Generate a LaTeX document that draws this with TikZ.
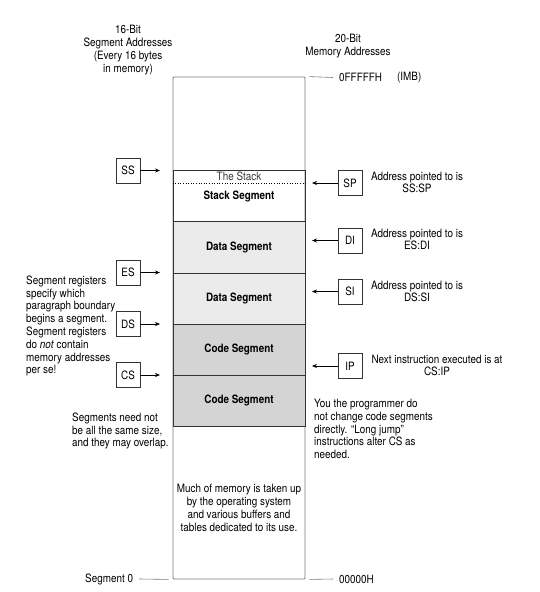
\documentclass[tikz,border=0pt]{standalone}
\usepackage{fontspec}
\setmainfont{TeX Gyre Heros}[FakeStretch=0.86]
\usetikzlibrary{arrows.meta}
\definecolor{datafill}{HTML}{EBEBEB}
\definecolor{codefill}{HTML}{D4D4D4}
\definecolor{linecol}{HTML}{333333}
\definecolor{outercol}{HTML}{7A7A7A}
\definecolor{stacktxt}{HTML}{3A3A3A}
\begin{document}
\begin{tikzpicture}[x=1pt,y=-1pt,
  every node/.style={font=\fontsize{11.5}{12.8}\selectfont, inner sep=0pt},
  seg/.style={draw=linecol, line width=0.8pt, minimum width=132pt, font=\fontsize{11.5}{12.8}\selectfont\bfseries},
  reg/.style={draw=linecol, line width=0.6pt, minimum width=24pt, minimum height=25pt},
  arr/.style={-{Stealth[length=5pt,width=4pt]}, line width=0.7pt},
  tick/.style={line width=0.6pt, draw=outercol},
  txt/.style={align=left, anchor=west},
  ctxt/.style={align=center}]
\useasboundingbox (0,0) rectangle (540,592);
% memory column
\node[draw=outercol, line width=0.8pt, rounded corners=1pt, minimum width=132pt, minimum height=502pt] (mem) at (239,328) {};
\node[seg, minimum height=51pt] (stack) at (239,195.5) {};
\node[seg, fill=datafill, minimum height=52pt] (data1) at (239,247) {Data Segment};
\node[seg, fill=datafill, minimum height=51pt] (data2) at (239,298.5) {Data Segment};
\node[seg, fill=codefill, minimum height=51pt] (code1) at (239,349.5) {Code Segment};
\node[seg, fill=codefill, minimum height=51pt] (code2) at (239,400.5) {Code Segment};
\node[text=stacktxt] (thestack) at (239,176) {The Stack};
\node[font=\fontsize{11.5}{12.8}\selectfont\bfseries] (stacklbl) at (239,196) {Stack Segment};
\draw[dotted, line width=0.6pt] (stack.west |- 0,183) coordinate (dl) -- (stack.east |- 0,183) coordinate (dr);
\node[ctxt] (much) at (239,508) {Much of memory is taken up\\by the operating system\\and various buffers and\\tables dedicated to its use.};
% headers
\node[ctxt] (hdr16) at (128,50) {16-Bit\\Segment Addresses\\(Every 16 bytes\\in memory)};
\node[ctxt] (hdr20) at (348,46) {20-Bit\\Memory Addresses};
\node[anchor=west] (top) at (339,77.5) {0FFFFFH};
\node[anchor=west] (imb) at (397,77.5) {(IMB)};
\node[anchor=west] (bot) at (339,579) {00000H};
\node[anchor=west] (seg0) at (85,579) {Segment 0};
\draw[tick] ([xshift=4pt]mem.north east) -- ([xshift=-6pt]top.west);
\draw[tick] ([xshift=4pt]mem.south east) -- ([xshift=-6pt]bot.west);
\draw[tick] ([xshift=-4pt]mem.south west) -- ([xshift=6pt]seg0.east);
% left registers
\node[reg] (ss) at (128,170.5) {SS};
\node[reg] (es) at (128,272.5) {ES};
\node[reg] (ds) at (128,324) {DS};
\node[reg] (cs) at (128,375) {CS};
\coordinate (ssE) at (160,170.5);
\coordinate (esE) at (160,272.5);
\coordinate (dsE) at (160,324);
\coordinate (csE) at (160,375);
\draw[arr] (ss.east) -- (ssE);
\draw[arr] (es.east) -- (esE);
\draw[arr] (ds.east) -- (dsE);
\draw[arr] (cs.east) -- (csE);
% right registers
\node[reg] (sp) at (350,183) {SP};
\node[reg] (di) at (350,240.5) {DI};
\node[reg] (si) at (350,291.5) {SI};
\node[reg] (ip) at (350,366) {IP};
\coordinate (spE) at (312,183);
\coordinate (diE) at (312,240.5);
\coordinate (siE) at (312,291.5);
\coordinate (ipE) at (312,366);
\draw[arr] (sp.west) -- (spE);
\draw[arr] (di.west) -- (diE);
\draw[arr] (si.west) -- (siE);
\draw[arr] (ip.west) -- (ipE);
% right texts
\node[ctxt] (tsp) at (417,182.5) {Address pointed to is\\SS:SP};
\node[ctxt] (tdi) at (417,239.5) {Address pointed to is\\ES:DI};
\node[ctxt] (tsi) at (417,291.5) {Address pointed to is\\DS:SI};
\node[ctxt] (tip) at (437,365.5) {Next instruction executed is at\\CS:IP};
\node[txt] (prog) at (314,429) {You the programmer do\\not change code segments\\directly. ``Long jump''\\instructions alter CS as\\needed.};
% left texts
\node[txt] (segreg) at (26,326) {Segment registers\\specify which\\paragraph boundary\\begins a segment.\\Segment registers\\do \emph{not} contain\\memory addresses\\per se!};
\node[txt] (need) at (72,431) {Segments need not\\be all the same size,\\and they may overlap.};
\end{tikzpicture}
\end{document}
